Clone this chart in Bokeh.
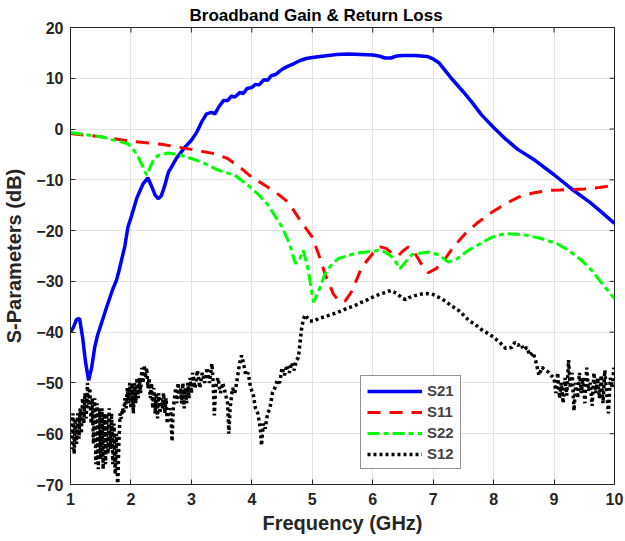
import math
from bokeh.plotting import figure
from bokeh.models import Range1d, FixedTicker, Legend, LegendItem
from bokeh.embed import file_html
from bokeh.resources import INLINE

# ---------------- data ----------------
s21_f = [1.00,1.05,1.10,1.15,1.20,1.25,1.30,1.35,1.40,1.45,1.50,1.60,1.70,1.76,1.80,1.90,1.95,2.00,2.10,2.20,2.28,2.35,2.40,2.45,2.50,2.55,2.62,2.67,2.75,2.80,2.89,3.00,3.09,3.17,3.25,3.33,3.39,3.45,3.53,3.60,3.66,3.72,3.80,3.86,3.92,4.00,4.06,4.12,4.20,4.26,4.32,4.40,4.46,4.52,4.60,4.70,4.80,4.90,5.00,5.20,5.40,5.60,5.80,6.00,6.10,6.20,6.30,6.40,6.50,6.60,6.70,6.80,6.90,7.00,7.10,7.20,7.30,7.50,7.64,7.80,8.00,8.20,8.40,8.69,9.00,9.29,9.60,9.80,10.00]
s21_db = [-40,-39,-37.5,-37.3,-41,-46,-49.5,-47,-43,-40.5,-38.7,-35,-31.5,-29.8,-28,-23,-19.3,-17.5,-13.5,-10.8,-9.6,-11.5,-13,-13.7,-13.2,-11.5,-8.5,-7.5,-5.8,-5.0,-3.6,-2.2,-0.6,1.4,3.0,3.3,3.0,4.3,5.6,5.6,6.5,6.3,7.2,7.0,8.0,8.2,8.8,8.7,9.7,9.6,10.5,10.8,11.4,11.9,12.4,12.9,13.5,13.9,14.1,14.4,14.7,14.8,14.7,14.6,14.4,14.0,14.0,14.4,14.5,14.5,14.5,14.4,14.3,13.8,13.0,11.5,10.0,7.3,5.3,2.8,0.3,-2.0,-4.0,-6.2,-9.0,-11.8,-14.5,-16.5,-18.6]

s11_f = [1.0,1.5,2.0,2.5,2.95,3.4,3.6,3.83,4.0,4.22,4.4,4.6,4.83,5.0,5.1,5.21,5.35,5.45,5.55,5.65,5.82,6.0,6.12,6.22,6.32,6.42,6.5,6.59,6.7,6.8,6.92,7.05,7.2,7.35,7.53,7.75,7.97,8.2,8.41,8.65,8.9,9.1,9.29,9.5,9.75,10.0]
s11_db = [-0.9,-1.5,-2.4,-3.0,-3.9,-4.9,-5.8,-7.8,-9.5,-11.1,-12.5,-14.4,-18.5,-21.3,-24.5,-28.5,-32.5,-34.0,-33.8,-32.0,-27.2,-24.5,-23.2,-23.5,-24.5,-25.0,-24.0,-23.2,-24.5,-26.5,-28.3,-27.5,-25.5,-23.0,-20.6,-18.3,-16.4,-14.7,-13.4,-12.6,-12.1,-12.0,-11.9,-11.8,-11.5,-11.1]

s22_f = [1.0,1.5,1.95,2.05,2.12,2.2,2.26,2.32,2.38,2.45,2.62,2.84,3.0,3.17,3.44,3.72,3.94,4.1,4.27,4.5,4.62,4.72,4.78,4.85,4.92,4.97,5.02,5.1,5.21,5.3,5.43,5.71,6.09,6.2,6.32,6.4,6.45,6.52,6.65,6.92,7.1,7.25,7.4,7.58,7.97,8.19,8.5,8.8,9.05,9.24,9.45,9.62,9.8,10.0]
s22_db = [-0.7,-1.5,-2.9,-4.2,-5.5,-7.5,-9.1,-7.5,-5.8,-5.2,-4.7,-5.2,-5.8,-6.5,-8.1,-9.1,-11.1,-12.8,-15.0,-19.3,-22.5,-26.5,-26.0,-23.9,-27.0,-30.5,-34.1,-32.0,-28.5,-27.0,-25.5,-24.5,-23.9,-24.2,-25.2,-26.5,-27.5,-26.5,-24.7,-24.2,-24.8,-26.2,-25.5,-23.9,-21.3,-20.6,-20.8,-21.6,-22.6,-23.9,-25.8,-27.8,-30.5,-33.4]

s12_f = [1.00,1.02,1.04,1.06,1.08,1.10,1.12,1.14,1.16,1.18,1.20,1.22,1.24,1.26,1.28,1.30,1.32,1.34,1.36,1.38,
         1.40,1.42,1.44,1.46,1.48,1.50,1.52,1.54,1.56,1.58,1.60,1.62,1.64,1.66,1.68,1.70,1.72,1.74,1.76,1.78,
         1.80,1.82,1.84,1.86,1.88,1.90,1.92,1.94,1.96,1.98,2.00,2.02,2.04,2.06,2.08,2.10,2.12,2.14,2.16,2.18,
         2.20,2.22,2.24,2.26,2.28,2.30,2.32,2.34,2.36,2.38,2.40,2.42,2.44,2.46,2.48,2.50,2.52,2.54,2.56,2.58,
         2.60,2.62,2.64,2.66,2.68,2.70,2.72,2.74,2.76,2.78,2.80,2.82,2.84,2.86,2.88,2.90,2.92,2.94,2.96,2.98,
         3.00,3.02,3.06,3.10,3.14,3.18,3.22,3.26,3.30,3.34,3.36,3.38,3.40,3.44,3.48,3.52,3.56,3.60,3.62,3.64,
         3.68,3.72,3.76,3.80,3.83,3.86,3.90,3.94,3.98,4.02,4.06,4.10,4.14,4.16,4.19,4.22,4.26,4.30,4.34,4.38,
         4.42,4.46,4.50,4.54,4.58,4.62,4.66,4.70,4.74,4.77,4.80,4.82,4.85,4.88,4.92,4.96,5.00,5.04,
         5.10,5.20,5.30,5.40,5.50,5.60,5.70,5.80,5.90,6.00,6.10,6.20,6.30,6.40,6.50,6.55,6.60,6.70,6.80,6.90,
         7.00,7.10,7.20,7.30,7.40,7.50,7.60,7.70,7.80,7.90,8.00,8.10,8.20,8.30,8.35,8.40,8.45,8.50,8.55,8.60,
         8.65,8.70,8.75,8.80,8.85,8.90,8.95,9.00,9.03,9.06,9.09,9.12,9.15,9.18,9.21,9.24,9.27,9.30,9.33,9.36,
         9.39,9.42,9.45,9.48,9.51,9.54,9.57,9.60,9.63,9.66,9.69,9.72,9.75,9.78,9.81,9.84,9.87,9.90,9.93,9.96,
         9.99,10.00]
s12_db = [-58,-63,-56,-64,-57,-62,-56,-61,-55,-60,-53,-58,-52,-57,-50,-55,-51,-58,-53,-62,
          -53,-66,-54,-67,-55,-65,-55,-67,-56,-66,-56,-64,-55,-63,-56,-66,-58,-68,-60,-71,
          -62,-56,-57,-55,-56,-53,-55,-51,-54,-50,-55,-50,-56,-50,-54,-49,-53,-49,-52,-47,
          -50,-46.5,-49,-47,-51,-49,-53,-50,-55,-51,-56,-52,-57,-52,-56,-53,-55,-52,-56,-53,
          -58,-56,-55,-56,-61.5,-55,-53,-51,-54,-50,-53,-51,-54,-50,-55,-51,-54,-50,-53,-49,
          -52,-48,-51,-47.5,-51,-48,-50,-47,-50,-46.2,-50,-56.4,-51,-49,-52,-50,-52,-54,-60,-55,
          -51,-52,-49,-46,-44.6,-46,-48.5,-48,-51,-52,-55,-56,-59,-62.3,-58,-59,-56,-55,-52,-51,
          -49.5,-50,-47,-48.5,-46.5,-48,-46,-47.5,-45.5,-45,-41.9,-39.6,-37.5,-36.6,-37.2,-37.8,-37.8,-37.8,
          -37.3,-37.0,-36.6,-36.2,-35.7,-35.2,-34.8,-34.2,-33.7,-33.1,-32.6,-32.2,-31.8,-32.4,-33.4,-33.6,-33.2,-32.8,-32.5,-32.4,
          -32.6,-33.2,-33.9,-34.8,-35.5,-36.6,-37.8,-38.5,-39.5,-40.2,-41.0,-42.0,-43.2,-43.0,-42.0,-42.6,-42.3,-43.5,-43.0,-44.6,
          -44.0,-45.8,-48.5,-46.9,-47.5,-47.8,-48.5,-49,-52,-48,-53,-50,-54,-49,-52.5,-45.5,-51,-48,-55.5,-50,
          -53,-48,-52,-49,-54,-47,-51.5,-50,-54.5,-48,-52,-49,-53,-48.5,-54,-47.5,-52,-56,-49,-51,
          -47,-50]

x_ticks = [1, 2, 3, 4, 5, 6, 7, 8, 9, 10]
y_ticks = [-70, -60, -50, -40, -30, -20, -10, 0, 10, 20]

FONT = "Liberation Sans"
AX = "#262626"

p = figure(frame_width=544, frame_height=457,
           x_range=Range1d(x_ticks[0], x_ticks[-1]), y_range=Range1d(y_ticks[0], y_ticks[-1]),
           output_backend="svg", toolbar_location=None,
           min_border_left=69, min_border_right=12, min_border_top=27, min_border_bottom=57,
           title="Broadband Gain & Return Loss")
p.title.align = "left"
p.title.offset = 119
p.title.text_font = FONT
p.title.text_font_size = "17px"
p.title.text_font_style = "bold"
p.title.text_color = "#000000"
p.title.standoff = 6

p.background_fill_color = "white"
p.border_fill_color = "white"
p.outline_line_color = AX
p.outline_line_width = 1

for ax, ticks in ((p.xaxis[0], x_ticks), (p.yaxis[0], y_ticks)):
    ax.ticker = FixedTicker(ticks=ticks)
    ax.axis_line_color = AX
    ax.major_tick_line_color = AX
    ax.major_tick_in = 5
    ax.major_tick_out = 0
    ax.minor_tick_in = 0
    ax.minor_tick_out = 0
    ax.major_label_text_font = FONT
    ax.major_label_text_font_style = "bold"
    ax.major_label_text_font_size = "16px"
    ax.major_label_text_color = AX
    ax.axis_label_text_font = FONT
    ax.axis_label_text_font_style = "bold"
    ax.axis_label_text_font_size = "20px"
    ax.axis_label_text_color = AX

p.xaxis.axis_label = "Frequency (GHz)"
p.xaxis.major_label_standoff = 8
p.xaxis.axis_label_standoff = 4
p.yaxis.axis_label = "S-Parameters (dB)"
p.yaxis.major_label_standoff = 7
p.yaxis.axis_label_standoff = 8

p.xgrid.ticker = FixedTicker(ticks=x_ticks)
p.ygrid.ticker = FixedTicker(ticks=y_ticks)
p.grid.grid_line_color = "#e3e3e3"
p.grid.grid_line_width = 1

# inward tick marks on the top and right edges of the box
p.scatter(x_ticks, [y_ticks[-1]] * len(x_ticks), marker="dash", angle=math.pi / 2,
          size=10, line_color=AX, line_width=1)
p.scatter([x_ticks[-1]] * len(y_ticks), y_ticks, marker="dash",
          size=10, line_color=AX, line_width=1)

r21 = p.line(s21_f, s21_db, line_color="#0000ff", line_width=3.5)
r11 = p.line(s11_f, s11_db, line_color="#ff0000", line_width=3, line_dash="13 9")
r22 = p.line(s22_f, s22_db, line_color="#00ff00", line_width=3, line_dash="12 4 5 4")
r12 = p.line(s12_f, s12_db, line_color="#000000", line_width=3.5, line_dash="3 3")

legend = Legend(items=[LegendItem(label="S21", renderers=[r21]),
                       LegendItem(label="S11", renderers=[r11]),
                       LegendItem(label="S22", renderers=[r22]),
                       LegendItem(label="S12", renderers=[r12])],
                location=(290, 15))
legend.glyph_width = 55
legend.glyph_height = 16
legend.label_height = 16
legend.spacing = 4
legend.padding = 6
legend.margin = 0
legend.label_text_font = FONT
legend.label_text_font_style = "bold"
legend.label_text_font_size = "15px"
legend.label_standoff = 5
legend.border_line_color = AX
legend.border_line_width = 1
legend.background_fill_alpha = 1
p.add_layout(legend, "center")

open("out.html", "w").write(file_html(p, INLINE))
